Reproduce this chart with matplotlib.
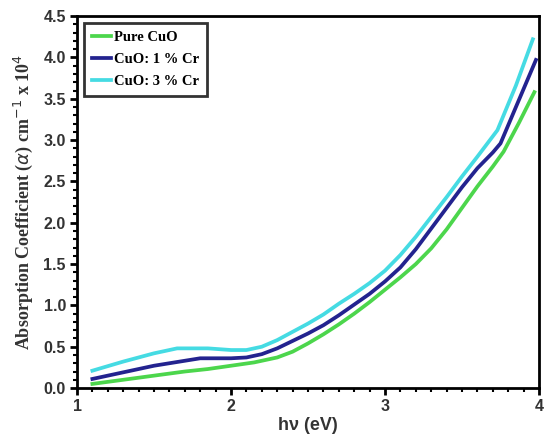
import matplotlib
matplotlib.use("Agg")
import matplotlib.pyplot as plt
from matplotlib.ticker import MultipleLocator

# Data
x_pure = [1.1, 1.3, 1.5, 1.7, 1.85, 2.0, 2.15, 2.3, 2.4, 2.5, 2.6, 2.7, 2.8, 2.9, 3.0, 3.1, 3.2, 3.3, 3.4, 3.5, 3.6, 3.7, 3.77, 3.87, 3.97]
y_pure = [0.05, 0.10, 0.15, 0.20, 0.23, 0.27, 0.31, 0.37, 0.44, 0.54, 0.65, 0.77, 0.90, 1.04, 1.19, 1.34, 1.50, 1.69, 1.92, 2.18, 2.44, 2.68, 2.86, 3.21, 3.58]

x_cr1 = [1.1, 1.3, 1.5, 1.7, 1.8, 1.9, 2.0, 2.1, 2.2, 2.3, 2.4, 2.5, 2.6, 2.7, 2.8, 2.9, 3.0, 3.1, 3.2, 3.3, 3.4, 3.5, 3.6, 3.7, 3.75, 3.85, 3.98]
y_cr1 = [0.11, 0.19, 0.27, 0.33, 0.36, 0.36, 0.36, 0.37, 0.41, 0.48, 0.57, 0.66, 0.76, 0.88, 1.01, 1.14, 1.29, 1.46, 1.68, 1.93, 2.18, 2.43, 2.66, 2.85, 2.96, 3.40, 3.97]

x_cr3 = [1.1, 1.3, 1.5, 1.65, 1.75, 1.85, 2.0, 2.1, 2.2, 2.3, 2.4, 2.5, 2.6, 2.7, 2.8, 2.9, 3.0, 3.1, 3.2, 3.3, 3.4, 3.5, 3.6, 3.73, 3.85, 3.96]
y_cr3 = [0.21, 0.32, 0.42, 0.48, 0.48, 0.48, 0.46, 0.46, 0.50, 0.58, 0.68, 0.78, 0.89, 1.02, 1.14, 1.27, 1.42, 1.61, 1.83, 2.07, 2.31, 2.56, 2.80, 3.12, 3.66, 4.22]

labels = ["Pure CuO", "CuO: 1 % Cr", "CuO: 3 % Cr"]
colors = ["#4cd64c", "#23238f", "#45dbe3"]

fig = plt.figure(figsize=(5.45, 4.36), dpi=100)
ax = fig.add_axes([0.1413, 0.110, 0.8477, 0.853])

ax.plot(x_pure, y_pure, color=colors[0], lw=2.7, label=labels[0])
ax.plot(x_cr1, y_cr1, color=colors[1], lw=2.7, label=labels[1])
ax.plot(x_cr3, y_cr3, color=colors[2], lw=2.7, label=labels[2])

ax.set_xlim(1, 4)
ax.set_ylim(0, 4.5)
ax.xaxis.set_minor_locator(MultipleLocator(0.1))
ax.yaxis.set_minor_locator(MultipleLocator(0.1))
ax.set_yticks([0, 0.5, 1.0, 1.5, 2.0, 2.5, 3.0, 3.5, 4.0, 4.5])
ax.set_yticklabels(["0.0", "0.5", "1.0", "1.5", "2.0", "2.5", "3.0", "3.5", "4.0", "4.5"])
ax.set_xticks([1, 2, 3, 4])
ax.set_xticklabels(["1", "2", "3", "4"])

for sp in ax.spines.values():
    sp.set_linewidth(2)
ax.tick_params(which="major", direction="out", length=5, width=2, labelsize=11.5, pad=3)
ax.tick_params(which="minor", direction="out", length=3, width=1.5)
for lab in ax.get_xticklabels() + ax.get_yticklabels():
    lab.set_fontfamily("Liberation Sans")
    lab.set_fontweight("bold")
    lab.set_color("#333333")

ax.set_xlabel("h\u03bd (eV)", fontfamily="Liberation Sans", fontweight="bold", fontsize=13, labelpad=2, color="#333333")
ax.set_ylabel(r"Absorption Coefficient ($\alpha$) cm$^{-1}$ x 10$^{4}$", fontfamily="Liberation Serif",
              fontweight="bold", fontsize=13, labelpad=6, color="#333333")

leg = ax.legend(loc="upper left", bbox_to_anchor=(0.005, 0.993), frameon=True, fancybox=False,
                prop={"family": "Liberation Serif", "weight": "bold", "size": 10.5},
                handlelength=1.3, handletextpad=0.2, borderpad=0.55, labelspacing=0.6, borderaxespad=0.3)
leg.get_frame().set_edgecolor("black")
leg.get_frame().set_linewidth(2)

fig.savefig("out.png", dpi=100)
